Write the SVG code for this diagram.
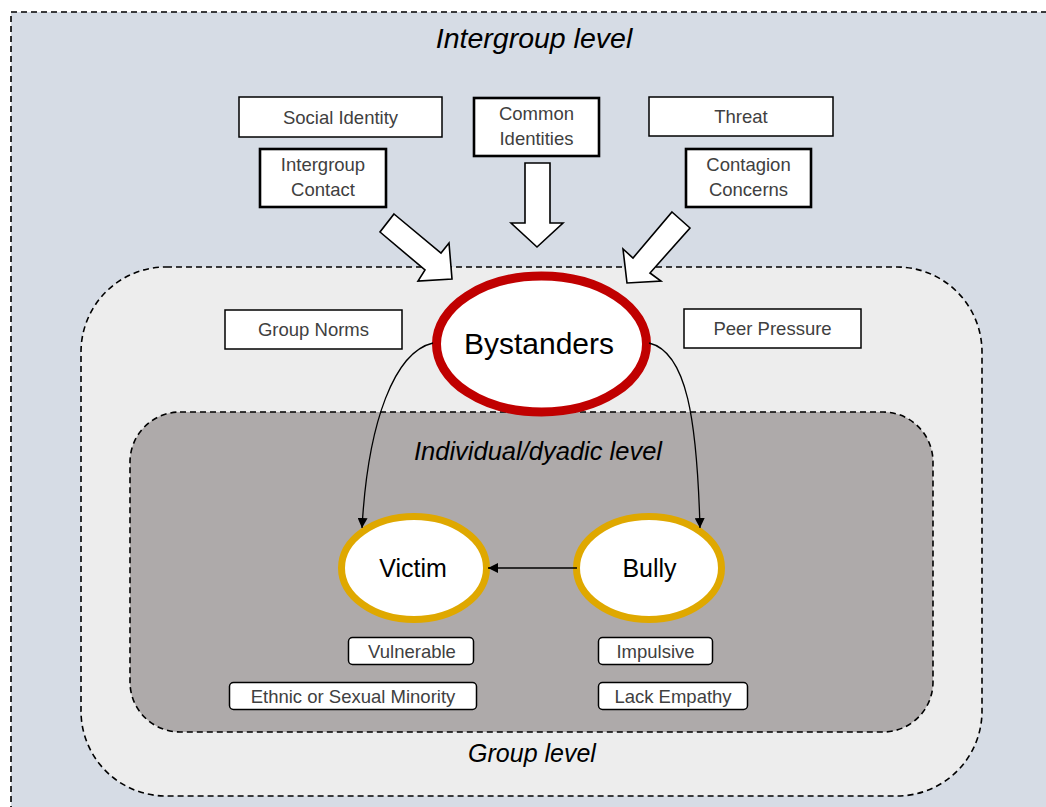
<svg xmlns="http://www.w3.org/2000/svg" width="1046" height="807" viewBox="0 0 1046 807">
<defs>
<style>
.lvl{fill:none;stroke:#000;stroke-width:1.6;stroke-dasharray:6 4}
.lbl{font-family:"Liberation Sans",Arial,sans-serif;font-style:italic;fill:#000;text-anchor:middle}
.box{fill:#fff;stroke:#000;stroke-width:1.5}
.tbox{fill:#fff;stroke:#000;stroke-width:2.6}
.sbox{fill:#fff;stroke:#000;stroke-width:1.5}
.bt{font-family:"Liberation Sans",Arial,sans-serif;font-size:18.5px;fill:#404040;text-anchor:middle}
.bl{fill:#fff;stroke:#000;stroke-width:1.6;stroke-linejoin:miter}
.et{font-family:"Liberation Sans",Arial,sans-serif;fill:#000;text-anchor:middle}
.con{fill:none;stroke:#000;stroke-width:1.3}
</style>
<marker id="ah" viewBox="0 0 10 10" refX="10" refY="5" markerWidth="10" markerHeight="10" markerUnits="userSpaceOnUse" orient="auto">
<path d="M0,0 L10,5 L0,10 z" fill="#000"/>
</marker>
</defs>

<g id="intergroup-level">
<rect x="0" y="0" width="1046" height="807" fill="#fff"/>
<rect x="11" y="12" width="1060" height="820" fill="#D6DCE5"/>
<rect x="11" y="12" width="1060" height="820" class="lvl"/>
<text class="lbl" x="534" y="48" font-size="28.5">Intergroup level</text>
</g>

<g id="group-level">
<rect x="81" y="267" width="901" height="529" rx="85" ry="85" fill="#EDEDED"/>
<rect x="81" y="267" width="901" height="529" rx="85" ry="85" class="lvl"/>
<text class="lbl" x="532" y="762" font-size="25">Group level</text>
</g>

<g id="individual-level">
<rect x="130" y="412" width="803" height="320" rx="50" ry="50" fill="#AEAAAA"/>
<rect x="130" y="412" width="803" height="320" rx="50" ry="50" class="lvl"/>
<text class="lbl" x="538" y="460" font-size="25.5">Individual/dyadic level</text>
</g>

<g id="social-identity">
<rect class="box" x="239" y="97" width="203" height="40"/>
<text class="bt" x="340.5" y="124">Social Identity</text>
</g>
<g id="intergroup-contact">
<rect class="tbox" x="260" y="149" width="126" height="58"/>
<text class="bt" x="323" y="171">Intergroup</text>
<text class="bt" x="323" y="196">Contact</text>
</g>
<g id="common-identities">
<rect class="tbox" x="474" y="98" width="125" height="58"/>
<text class="bt" x="536.5" y="120">Common</text>
<text class="bt" x="536.5" y="145">Identities</text>
</g>
<g id="threat">
<rect class="box" x="649" y="97" width="184" height="39"/>
<text class="bt" x="741" y="123">Threat</text>
</g>
<g id="contagion-concerns">
<rect class="tbox" x="686" y="149" width="125" height="58"/>
<text class="bt" x="748.5" y="171">Contagion</text>
<text class="bt" x="748.5" y="196">Concerns</text>
</g>
<g id="group-norms">
<rect class="box" x="225" y="310" width="177" height="39"/>
<text class="bt" x="313.5" y="336">Group Norms</text>
</g>
<g id="peer-pressure">
<rect class="box" x="684" y="309" width="177" height="39"/>
<text class="bt" x="772.5" y="335">Peer Pressure</text>
</g>

<g id="block-arrows">
<polygon class="bl" points="394,214 441,253 449,243 452,279 418,281 425,270 380,232"/>
<polygon class="bl" points="525,163 550,163 550,223 563,223 537,247 511,223 525,223"/>
<polygon class="bl" points="672,212 690,228 650,273 661,281 627,283 623,249 633,258"/>
</g>

<g id="bystanders">
<ellipse cx="541.5" cy="344" rx="105" ry="68" fill="#fff" stroke="#C00000" stroke-width="9"/>
<text class="et" x="539" y="354" font-size="30">Bystanders</text>
</g>

<g id="victim">
<ellipse cx="414" cy="568" rx="72.5" ry="51.5" fill="#fff" stroke="#DFA800" stroke-width="7"/>
<text class="et" x="413" y="577" font-size="25">Victim</text>
</g>
<g id="bully">
<ellipse cx="649" cy="568" rx="72.5" ry="51.5" fill="#fff" stroke="#DFA800" stroke-width="7"/>
<text class="et" x="649.5" y="577" font-size="25">Bully</text>
</g>

<g id="vulnerable">
<rect class="sbox" x="348.5" y="637.5" width="125" height="27" rx="4"/>
<text class="bt" x="412" y="658">Vulnerable</text>
</g>
<g id="ethnic-minority">
<rect class="sbox" x="229.5" y="682.5" width="247" height="27" rx="4"/>
<text class="bt" x="353" y="703">Ethnic or Sexual Minority</text>
</g>
<g id="impulsive">
<rect class="sbox" x="598.5" y="637.5" width="114" height="27" rx="4"/>
<text class="bt" x="655.5" y="658">Impulsive</text>
</g>
<g id="lack-empathy">
<rect class="sbox" x="598.5" y="682.5" width="149" height="27" rx="4"/>
<text class="bt" x="673" y="703">Lack Empathy</text>
</g>

<g id="connectors">
<path class="con" d="M433,343 C395,352 368,420 362,528" marker-end="url(#ah)"/>
<path class="con" d="M649,343 C687,352 697,420 700,528" marker-end="url(#ah)"/>
<path class="con" d="M577,568 L488,568" marker-end="url(#ah)"/>
</g>
</svg>
